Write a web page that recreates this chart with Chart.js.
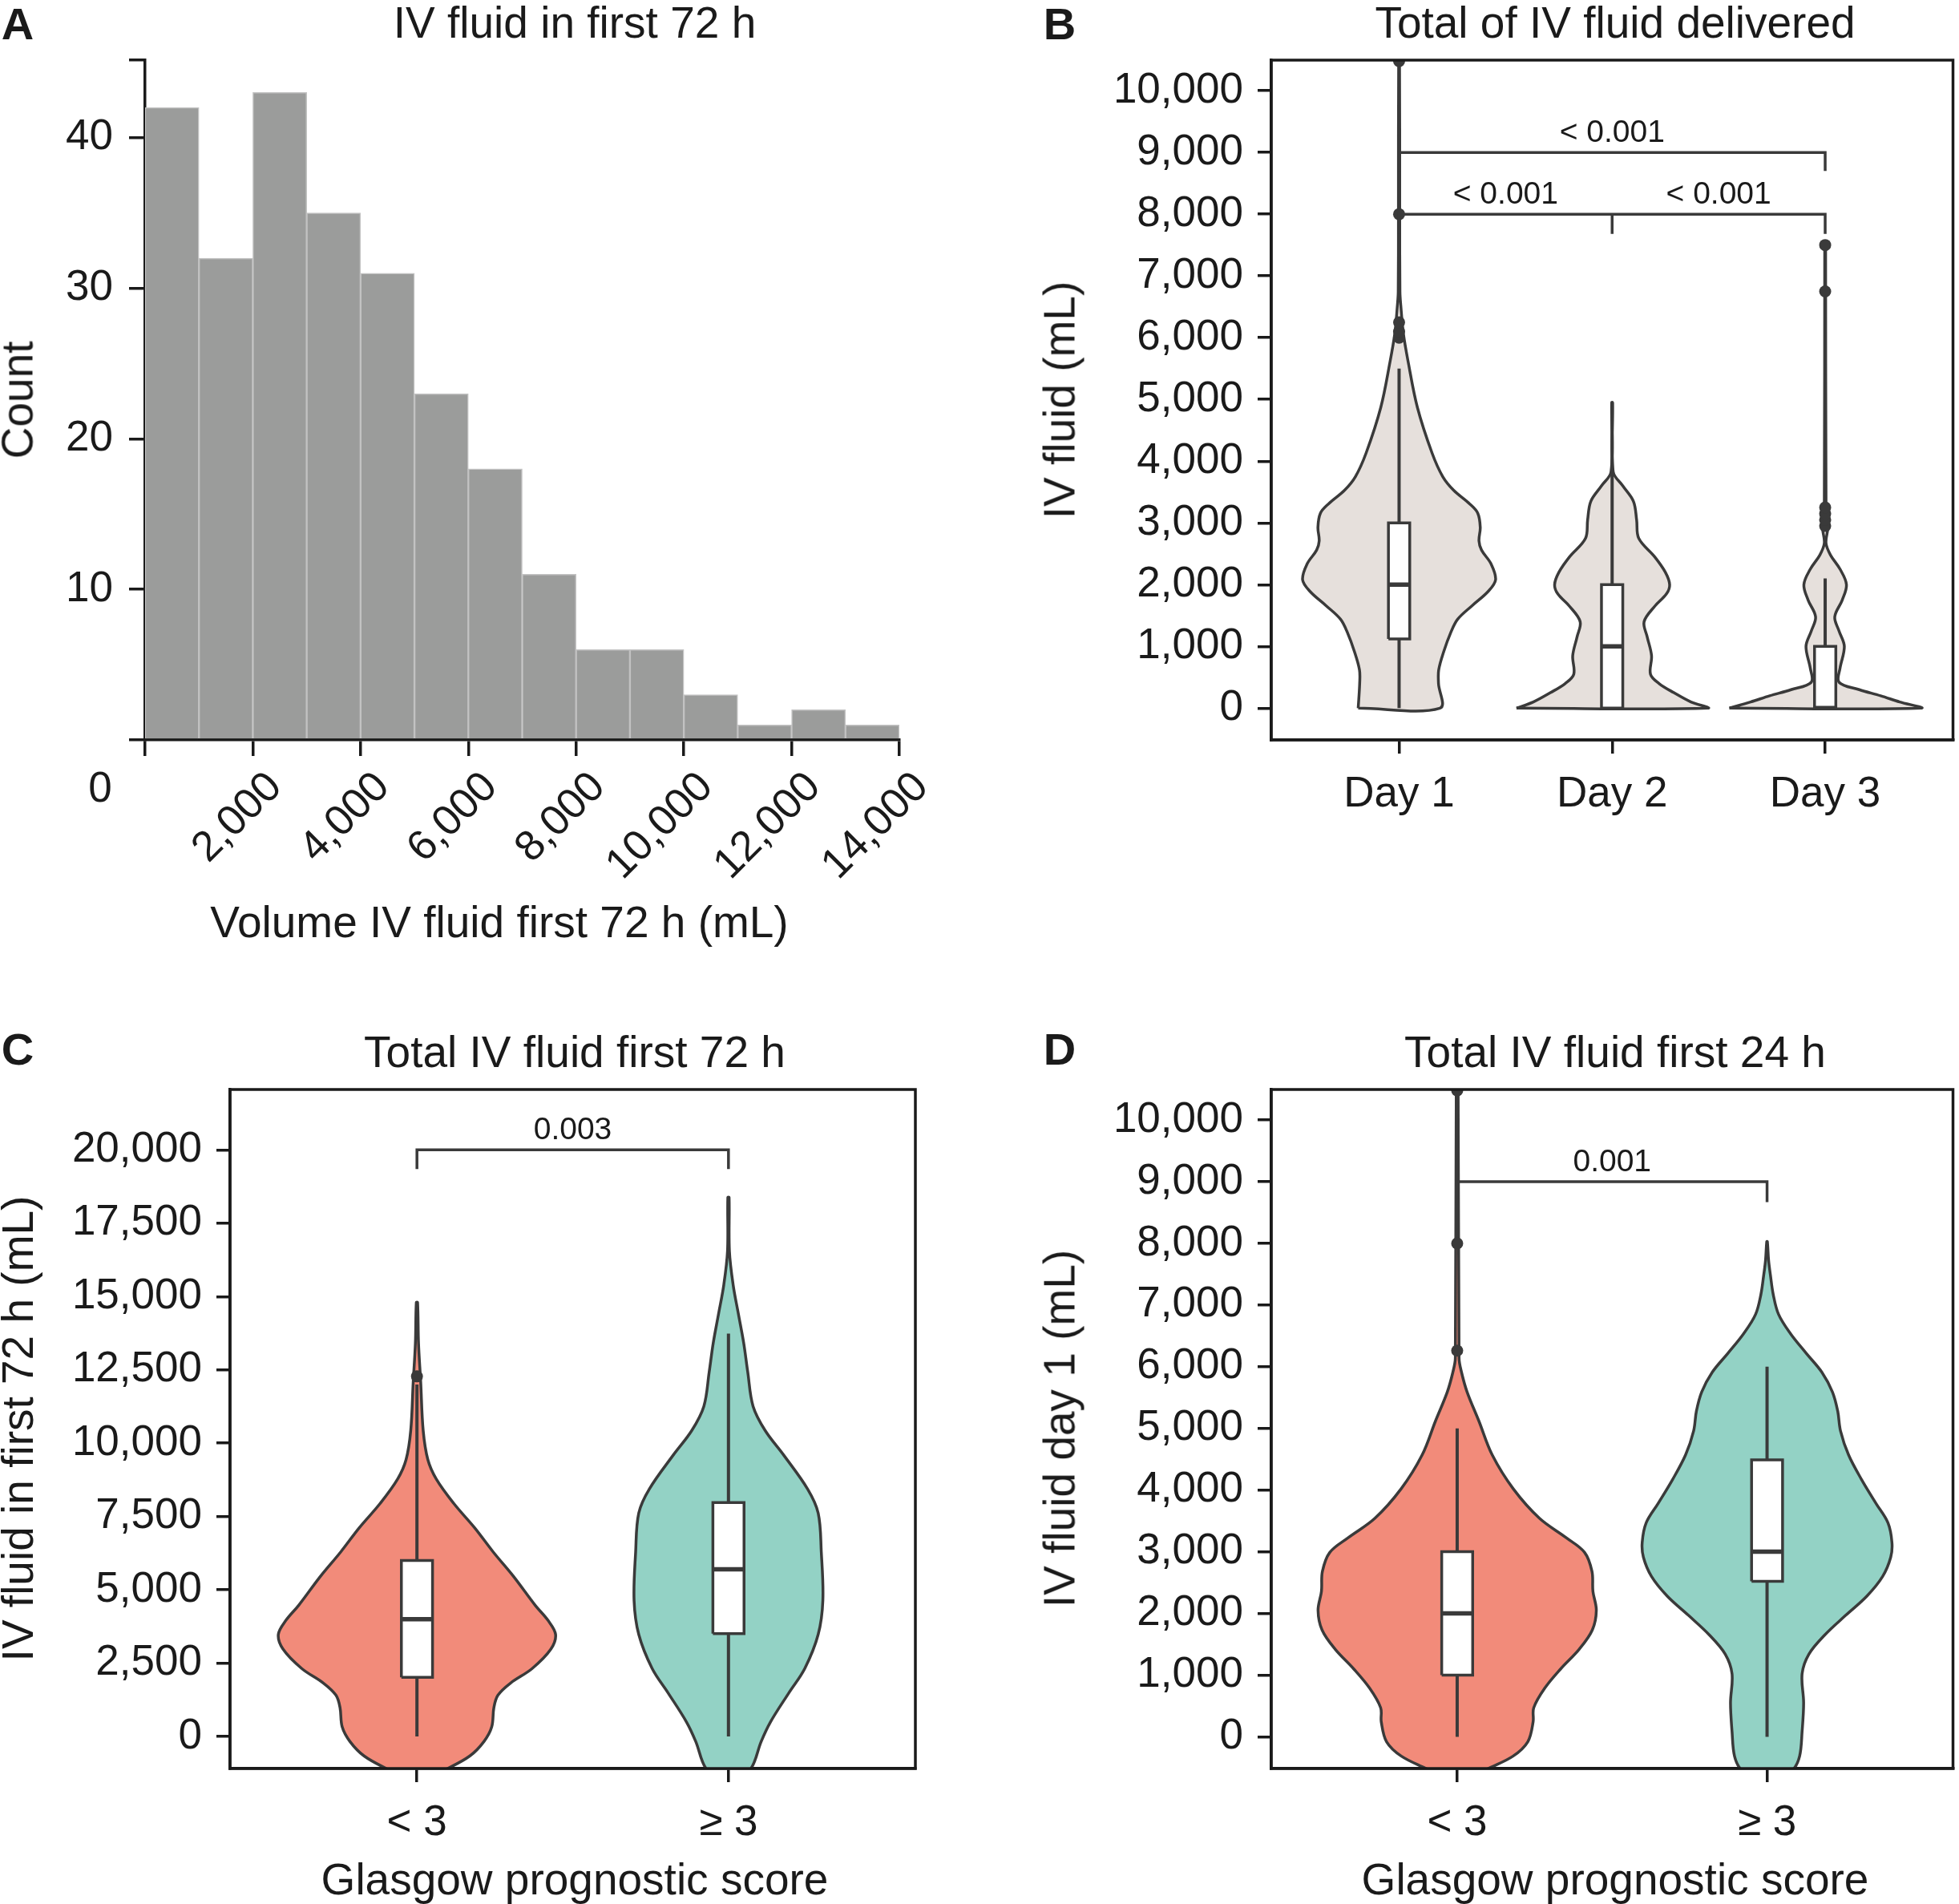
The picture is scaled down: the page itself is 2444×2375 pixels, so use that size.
<!DOCTYPE html>
<html>
<head>
<meta charset="utf-8">
<script src="https://cdn.jsdelivr.net/npm/chart.js@4.4.1/dist/chart.umd.min.js"></script>
<style>
  html, body { margin: 0; padding: 0; background: #fff; }
  #page { position: relative; width: 2444px; height: 2375px; overflow: hidden;
          font-family: 'Liberation Sans', Arial, sans-serif; color: #1a1a1a; }
  canvas { position: absolute; }
  .txt { position: absolute; white-space: nowrap; line-height: 1; font-size: 55px;
         transform: translate(-50%, -50%); }
  .rot { transform: translate(-50%, -50%) rotate(-90deg); }
  .letter { font-weight: bold; font-size: 56px; }
</style>
</head>
<body>
<div id="page">
  <canvas id="chartA" width="1222" height="1188" style="left:0;top:0"></canvas>
  <canvas id="chartB" width="1222" height="1188" style="left:1222px;top:0"></canvas>
  <canvas id="chartC" width="1222" height="1187" style="left:0;top:1188px"></canvas>
  <canvas id="chartD" width="1222" height="1187" style="left:1222px;top:1188px"></canvas>

  <div class="txt letter" style="left:22px;top:30px">A</div>
  <div class="txt letter" style="left:1322px;top:30px">B</div>
  <div class="txt letter" style="left:22px;top:1309px">C</div>
  <div class="txt letter" style="left:1322px;top:1309px">D</div>

  <div class="txt" style="left:717px;top:28px">IV fluid in first 72 h</div>
  <div class="txt" style="left:2015px;top:28px">Total of IV fluid delivered</div>
  <div class="txt" style="left:717px;top:1312px">Total IV fluid first 72 h</div>
  <div class="txt" style="left:2015px;top:1312px">Total IV fluid first 24 h</div>

  <div class="txt rot" style="left:22px;top:499px">Count</div>
  <div class="txt" style="left:623px;top:1150px">Volume IV fluid first 72 h (mL)</div>
  <div class="txt rot" style="left:1322px;top:499px">IV fluid (mL)</div>
  <div class="txt rot" style="left:22px;top:1782px">IV fluid in first 72 h (mL)</div>
  <div class="txt" style="left:717px;top:2344px">Glasgow prognostic score</div>
  <div class="txt rot" style="left:1322px;top:1782px">IV fluid day 1 (mL)</div>
  <div class="txt" style="left:2015px;top:2344px">Glasgow prognostic score</div>
</div>

<script>
// ---------- A: histogram ----------
const histBinEdges = [0, 1000, 2000, 3000, 4000, 5000, 6000, 7000, 8000, 9000, 10000, 11000, 12000, 13000, 14000];
const histCounts = [42, 32, 43, 35, 31, 23, 18, 11, 6, 6, 3, 1, 2, 1];
const histXTicks = [0, 2000, 4000, 6000, 8000, 10000, 12000, 14000];
const histXLabels = ['', '2,000', '4,000', '6,000', '8,000', '10,000', '12,000', '14,000'];
const histYTicks = [0, 10, 20, 30, 40, 45.15];
const histYLabels = ['', '10', '20', '30', '40', ''];

// ---------- B: IV fluid per day ----------
const dayLabels = ['Day 1', 'Day 2', 'Day 3'];
const dayYTicks = [0, 1000, 2000, 3000, 4000, 5000, 6000, 7000, 8000, 9000, 10000];
const day1Levels = [0, 400, 620, 920, 1220, 1440, 1660, 1890, 2080, 2340, 2560, 2710, 2930, 3160, 3310, 3530, 3750, 4130, 4870, 5620, 6070, 6520, 6740, 8000, 10480];
const day1Widths = [0.192, 0.185, 0.186, 0.210, 0.242, 0.275, 0.343, 0.418, 0.453, 0.431, 0.387, 0.375, 0.381, 0.369, 0.331, 0.256, 0.205, 0.155, 0.086, 0.042, 0.020, 0.008, 0.004, 0.003, 0.002];
const day2Levels = [0, 100, 250, 400, 550, 850, 1150, 1400, 1650, 1850, 2000, 2200, 2450, 2750, 3050, 3350, 3600, 3830, 4950];
const day2Widths = [0.449, 0.37, 0.29, 0.22, 0.18, 0.185, 0.165, 0.15, 0.20, 0.255, 0.27, 0.25, 0.20, 0.125, 0.115, 0.10, 0.05, 0.005, 0.002];
const day3Levels = [0, 100, 200, 300, 420, 650, 1000, 1250, 1480, 1750, 2000, 2250, 2480, 2670, 2900, 3100, 3300, 7500];
const day3Widths = [0.45, 0.35, 0.26, 0.16, 0.065, 0.07, 0.09, 0.065, 0.045, 0.08, 0.10, 0.07, 0.025, 0.004, 0.012, 0.012, 0.004, 0.002];
const dayQ1 = [1120, 0, 0];
const dayMedian = [2000, 1000, 0];
const dayQ3 = [3000, 2000, 1000];
const dayWhiskerLow = [0, 0, 0];
const dayWhiskerHigh = [5500, 4950, 2100];
const dayOutliers = [[6000, 6100, 6250, 8000, 10480], [], [2950, 3050, 3150, 3250, 6750, 7500]];
const dayBrackets = [{x1: 0, x2: 2, y: 9000, drop: 300}, {x1: 0, x2: 2, y: 8000, drop: 320, mid: 1}];
const dayPValues = [{text: '< 0.001', x: 1, y: 9000}, {text: '< 0.001', x: 0.5, y: 8000}, {text: '< 0.001', x: 1.5, y: 8000}];

// ---------- C: total 72 h by GPS ----------
const gpsLabels = ['< 3', '\u2265 3'];
const total72YTicks = [0, 2500, 5000, 7500, 10000, 12500, 15000, 17500, 20000];
const t72LowLevels = [-1600, -1110, -660, -170, 330, 990, 1410, 1820, 2320, 2980, 3480, 3970, 4470, 5460, 6290, 7120, 7950, 8780, 9440, 10430, 12090, 13410, 14800];
const t72LowWidths = [0, 0.095, 0.17, 0.215, 0.24, 0.247, 0.26, 0.30, 0.37, 0.43, 0.445, 0.42, 0.38, 0.31, 0.245, 0.185, 0.118, 0.062, 0.035, 0.02, 0.012, 0.005, 0.002];
const t72HighLevels = [-1700, -1110, -170, 500, 1490, 2320, 3480, 4640, 6290, 7620, 8440, 9600, 10430, 11260, 12420, 13410, 14400, 15400, 16560, 18380];
const t72HighWidths = [0, 0.071, 0.105, 0.135, 0.194, 0.245, 0.288, 0.303, 0.298, 0.288, 0.254, 0.177, 0.118, 0.079, 0.062, 0.049, 0.032, 0.015, 0.003, 0.002];
const t72Q1 = [2020, 3510];
const t72Median = [4000, 5700];
const t72Q3 = [6000, 7980];
const t72WhiskerLow = [0, 0];
const t72WhiskerHigh = [12000, 13740];
const t72Outliers = [[12280], []];
const t72Brackets = [{x1: 0, x2: 1, y: 20000, drop: 650}];
const t72PValues = [{text: '0.003', x: 0.5, y: 20000}];

// ---------- D: day 1 by GPS ----------
const day1YTicks = [0, 1000, 2000, 3000, 4000, 5000, 6000, 7000, 8000, 9000, 10000];
const d1LowLevels = [-800, -530, -315, -80, 240, 470, 790, 1100, 1420, 1730, 2050, 2360, 2680, 2990, 3230, 3540, 4020, 4570, 5120, 5590, 5910, 6140, 10490];
const d1LowWidths = [0, 0.095, 0.18, 0.228, 0.245, 0.247, 0.283, 0.334, 0.394, 0.436, 0.449, 0.438, 0.435, 0.411, 0.351, 0.266, 0.181, 0.113, 0.070, 0.032, 0.014, 0.006, 0.003];
const d1HighLevels = [-850, -530, -315, 80, 550, 1020, 1340, 1650, 1970, 2280, 2600, 2910, 3150, 3470, 3780, 4170, 4570, 4960, 5280, 5590, 5910, 6220, 6540, 6850, 7170, 7480, 7720, 8030];
const d1HighWidths = [0, 0.084, 0.105, 0.113, 0.118, 0.113, 0.135, 0.186, 0.254, 0.322, 0.373, 0.399, 0.403, 0.39, 0.352, 0.305, 0.263, 0.237, 0.228, 0.211, 0.177, 0.126, 0.075, 0.037, 0.02, 0.011, 0.005, 0.001];
const d1Q1 = [1000, 2520];
const d1Median = [2000, 3000];
const d1Q3 = [3000, 4490];
const d1WhiskerLow = [0, 0];
const d1WhiskerHigh = [5000, 6000];
const d1Outliers = [[6260, 8000, 10480], []];
const d1Brackets = [{x1: 0, x2: 1, y: 9000, drop: 330}];
const d1PValues = [{text: '0.001', x: 0.5, y: 9000}];

// ---------- style ----------
const TEXT = '#1a1a1a';
const AXIS = '#1a1a1a';
const EDGE = '#3a3a3a';
const BAR = '#9b9c9b';
const BAR_EDGE = '#c2c2c2';
const DAY_FILL = '#e6e0dc';
const SALMON = '#f28b7a';
const TEAL = '#93d2c5';
const BOX_HALF = 0.05;

Chart.defaults.font.family = "'Liberation Sans', Arial, sans-serif";
Chart.defaults.font.size = 53;
Chart.defaults.color = TEXT;
Chart.defaults.animation = false;

function violinPoints(center, levels, widths) {
    const left = levels.map((v, i) => ({x: center - widths[i], y: v}));
    const right = levels.map((v, i) => ({x: center + widths[i], y: v})).reverse();
    return left.concat(right, [left[0]]);
}

function boxPoints(center, q1, q3) {
    return [
        {x: center - BOX_HALF, y: q1}, {x: center + BOX_HALF, y: q1},
        {x: center + BOX_HALF, y: q3}, {x: center - BOX_HALF, y: q3},
        {x: center - BOX_HALF, y: q1}
    ];
}

function lineSet(points, width, order) {
    return {data: points, borderColor: EDGE, borderWidth: width, pointRadius: 0, tension: 0, fill: false, order: order};
}

// рамка вокруг области графика
const framePlugin = {
    id: 'frame',
    afterDraw(chart) {
        const {ctx, chartArea: a} = chart;
        ctx.save();
        ctx.strokeStyle = AXIS;
        ctx.lineWidth = 3.5;
        ctx.strokeRect(a.left, a.top, a.right - a.left, a.bottom - a.top);
        ctx.restore();
    }
};

// подписи p-значений над скобками
const pValuePlugin = {
    id: 'pValues',
    afterDatasetsDraw(chart, args, opts) {
        const {ctx, scales: {x, y}} = chart;
        ctx.save();
        ctx.font = "39px 'Liberation Sans', Arial, sans-serif";
        ctx.fillStyle = TEXT;
        ctx.textAlign = 'center';
        ctx.textBaseline = 'alphabetic';
        (opts.items || []).forEach(it => {
            ctx.fillText(it.text, x.getPixelForValue(it.x), y.getPixelForValue(it.y) - 13);
        });
        ctx.restore();
    }
};

// отдельная подпись "0" под осью гистограммы
const zeroLabelPlugin = {
    id: 'zeroLabel',
    afterDraw(chart) {
        const {ctx, scales: {x, y}} = chart;
        ctx.save();
        ctx.font = "53px 'Liberation Sans', Arial, sans-serif";
        ctx.fillStyle = TEXT;
        ctx.textAlign = 'center';
        ctx.textBaseline = 'middle';
        ctx.fillText('0', x.getPixelForValue(0) - 56, y.bottom + 62);
        ctx.restore();
    }
};

function axisGrid(len) {
    return {drawOnChartArea: false, drawTicks: true, tickLength: len, lineWidth: 3.5, color: AXIS};
}

// ---------- A ----------
new Chart(document.getElementById('chartA'), {
    type: 'bar',
    data: {
        datasets: [{
            data: histCounts.map((c, i) => ({x: (histBinEdges[i] + histBinEdges[i + 1]) / 2, y: c})),
            backgroundColor: BAR,
            borderColor: BAR_EDGE,
            borderWidth: 1.5,
            barPercentage: 1,
            categoryPercentage: 1
        }]
    },
    options: {
        responsive: false,
        events: [],
        layout: {padding: {left: 0, top: 75, right: 100, bottom: 0}},
        plugins: {legend: {display: false}, tooltip: {enabled: false}},
        scales: {
            x: {
                type: 'linear', offset: false, min: 0, max: 14000,
                afterBuildTicks: s => { s.ticks = histXTicks.map(v => ({value: v})); },
                ticks: {callback: (v, i) => histXLabels[i], minRotation: 45, maxRotation: 45, autoSkip: false, padding: 8, labelOffset: 28},
                grid: Object.assign(axisGrid(20), {offset: false}),
                border: {color: AXIS, width: 3.5},
                afterFit: s => { s.height = 265; }
            },
            y: {
                min: 0, max: 45.15,
                afterBuildTicks: s => { s.ticks = histYTicks.map(v => ({value: v})); },
                ticks: {callback: (v, i) => histYLabels[i], padding: 20, autoSkip: false},
                grid: axisGrid(20),
                border: {color: AXIS, width: 3.5},
                afterFit: s => { s.width = 181; }
            }
        }
    },
    plugins: [zeroLabelPlugin]
});

// ---------- violin panels ----------
function violinChart(id, geo, s) {
    const datasets = [];
    s.levels.forEach((lv, i) => {
        datasets.push({
            data: violinPoints(i, lv, s.widths[i]),
            fill: 'shape', backgroundColor: s.colors[i],
            borderColor: EDGE, borderWidth: 3.5, tension: 0.35, pointRadius: 0, order: 6
        });
        datasets.push(lineSet([{x: i, y: s.whiskerLow[i]}, {x: i, y: s.whiskerHigh[i]}], 4, 5));
        datasets.push({
            data: boxPoints(i, s.q1[i], s.q3[i]),
            fill: 'shape', backgroundColor: '#ffffff',
            borderColor: EDGE, borderWidth: 3.5, tension: 0, pointRadius: 0, order: 4
        });
        datasets.push(lineSet([{x: i - BOX_HALF, y: s.median[i]}, {x: i + BOX_HALF, y: s.median[i]}], 5.5, 3));
        if (s.outliers[i].length) {
            datasets.push({
                data: s.outliers[i].map(v => ({x: i, y: v})),
                showLine: false, pointRadius: 7.5, pointBackgroundColor: EDGE, pointBorderWidth: 0, order: 2
            });
        }
    });
    s.brackets.forEach(b => {
        datasets.push(lineSet([
            {x: b.x1, y: b.y - b.drop}, {x: b.x1, y: b.y},
            {x: b.x2, y: b.y}, {x: b.x2, y: b.y - b.drop}
        ], 3.5, 1));
        if (b.mid !== undefined) {
            datasets.push(lineSet([{x: b.mid, y: b.y}, {x: b.mid, y: b.y - b.drop}], 3.5, 1));
        }
    });

    new Chart(document.getElementById(id), {
        type: 'line',
        data: {datasets},
        options: {
            responsive: false,
            events: [],
            layout: {padding: geo.padding},
            plugins: {legend: {display: false}, tooltip: {enabled: false}, pValues: {items: s.pValues}},
            scales: {
                x: {
                    type: 'linear', min: -0.6, max: s.labels.length - 0.4,
                    afterBuildTicks: sc => { sc.ticks = s.labels.map((_, i) => ({value: i})); },
                    ticks: {callback: (v, i) => s.labels[i], padding: 20, maxRotation: 0, autoSkip: false},
                    grid: axisGrid(17),
                    border: {color: AXIS, width: 3.5},
                    afterFit: sc => { sc.height = geo.xHeight; }
                },
                y: {
                    type: 'linear', min: s.yMin, max: s.yMax,
                    afterBuildTicks: sc => { sc.ticks = s.yTicks.map(v => ({value: v})); },
                    ticks: {callback: v => v.toLocaleString('en-US'), padding: 18, autoSkip: false},
                    grid: axisGrid(17),
                    border: {color: AXIS, width: 3.5},
                    afterFit: sc => { sc.width = geo.yWidth; }
                }
            }
        },
        plugins: [framePlugin, pValuePlugin]
    });
}

violinChart('chartB', {padding: {left: 0, top: 75, right: 4, bottom: 0}, xHeight: 265, yWidth: 364}, {
    labels: dayLabels, yTicks: dayYTicks, yMin: -515, yMax: 10495,
    levels: [day1Levels, day2Levels, day3Levels], widths: [day1Widths, day2Widths, day3Widths],
    colors: [DAY_FILL, DAY_FILL, DAY_FILL],
    q1: dayQ1, median: dayMedian, q3: dayQ3, whiskerLow: dayWhiskerLow, whiskerHigh: dayWhiskerHigh,
    outliers: dayOutliers, brackets: dayBrackets, pValues: dayPValues
});

violinChart('chartC', {padding: {left: 0, top: 171, right: 80, bottom: 0}, xHeight: 169, yWidth: 287}, {
    labels: gpsLabels, yTicks: total72YTicks, yMin: -1090, yMax: 22060,
    levels: [t72LowLevels, t72HighLevels], widths: [t72LowWidths, t72HighWidths],
    colors: [SALMON, TEAL],
    q1: t72Q1, median: t72Median, q3: t72Q3, whiskerLow: t72WhiskerLow, whiskerHigh: t72WhiskerHigh,
    outliers: t72Outliers, brackets: t72Brackets, pValues: t72PValues
});

violinChart('chartD', {padding: {left: 0, top: 171, right: 4, bottom: 0}, xHeight: 169, yWidth: 364}, {
    labels: gpsLabels, yTicks: day1YTicks, yMin: -515, yMax: 10495,
    levels: [d1LowLevels, d1HighLevels], widths: [d1LowWidths, d1HighWidths],
    colors: [SALMON, TEAL],
    q1: d1Q1, median: d1Median, q3: d1Q3, whiskerLow: d1WhiskerLow, whiskerHigh: d1WhiskerHigh,
    outliers: d1Outliers, brackets: d1Brackets, pValues: d1PValues
});
</script>
</body>
</html>
